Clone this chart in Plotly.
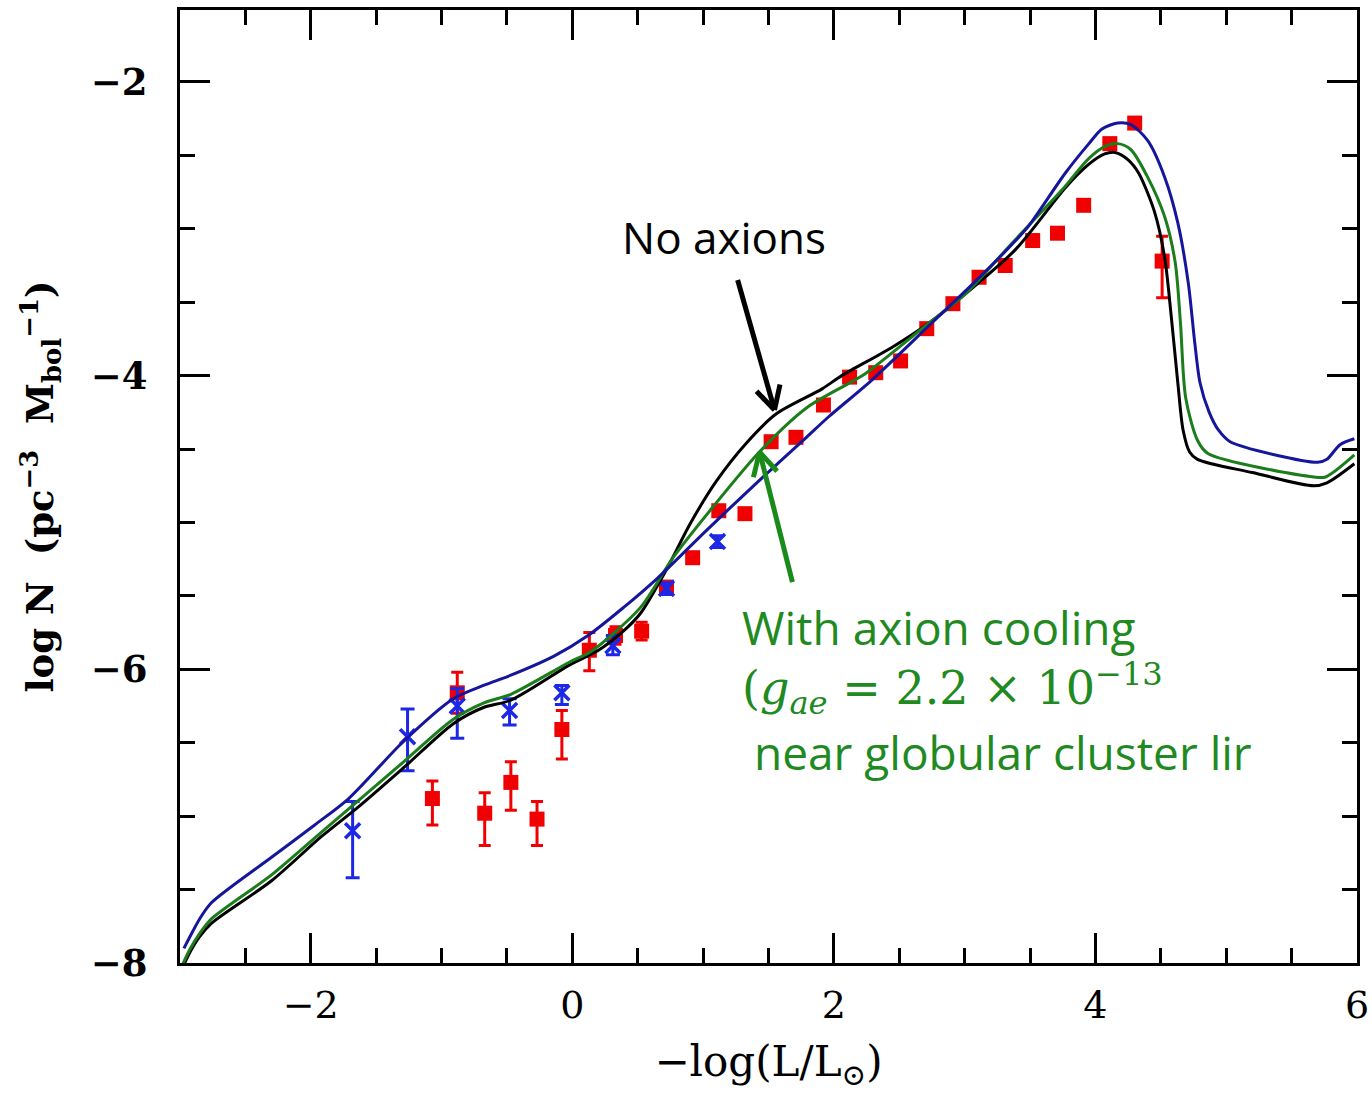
import math
import plotly.graph_objects as go

# ---------------- data ----------------
red_x = [-1.07, -0.88, -0.67, -0.47, -0.27, -0.08, 0.13, 0.33, 0.53, 0.72, 0.92, 1.12, 1.32,
         1.52, 1.71, 1.92, 2.12, 2.32, 2.51, 2.71, 2.91, 3.11, 3.31, 3.52, 3.71, 3.91, 4.11, 4.30, 4.51]
red_y = [-6.88, -6.16, -6.98, -6.77, -7.02, -6.41, -5.87, -5.77, -5.74, -5.44, -5.24, -4.92, -4.94,
         -4.45, -4.42, -4.20, -4.01, -3.98, -3.90, -3.68, -3.51, -3.33, -3.25, -3.08, -3.03, -2.84, -2.42, -2.28, -3.22]
red_plus = [0.12, 0.14, 0.14, 0.14, 0.12, 0.13, 0.12, 0.06, 0.06, 0.03, 0.02, 0.02, 0.02,
            0.02, 0.02, 0.02, 0.02, 0.02, 0.02, 0.02, 0.02, 0.02, 0.02, 0.02, 0.02, 0.02, 0.02, 0.02, 0.17]
red_minus = [0.18, 0.14, 0.22, 0.19, 0.18, 0.20, 0.14, 0.06, 0.06, 0.03, 0.02, 0.02, 0.02,
             0.02, 0.02, 0.02, 0.02, 0.02, 0.02, 0.02, 0.02, 0.02, 0.02, 0.02, 0.02, 0.02, 0.02, 0.02, 0.25]

blue_x = [-1.68, -1.26, -0.88, -0.48, -0.08, 0.31, 0.72, 1.11]
blue_y = [-7.10, -6.46, -6.25, -6.28, -6.16, -5.84, -5.45, -5.13]
blue_plus = [0.20, 0.19, 0.12, 0.08, 0.05, 0.07, 0.04, 0.04]
blue_minus = [0.32, 0.23, 0.22, 0.10, 0.08, 0.06, 0.04, 0.04]

noax_x = [-2.98, -2.92, -2.85, -2.76, -2.30, -1.92, -1.64, -1.29, -0.91, -0.68, -0.47, -0.02, 0.20,
          0.39, 0.52, 0.72, 0.90, 1.10, 1.33, 1.56, 1.91, 2.06, 2.44, 2.73, 3.01, 3.39, 3.77, 3.95,
          4.07, 4.15, 4.25, 4.33, 4.45, 4.53, 4.58, 4.63, 4.67, 4.72, 4.78, 5.20, 5.67, 5.77, 5.98]
noax_y = [-8.03, -7.92, -7.82, -7.73, -7.44, -7.14, -6.94, -6.67, -6.37, -6.26, -6.21, -5.97, -5.87,
          -5.74, -5.62, -5.32, -5.01, -4.72, -4.46, -4.26, -4.09, -4.00, -3.81, -3.64, -3.44, -3.14,
          -2.72, -2.56, -2.49, -2.48, -2.53, -2.62, -2.88, -3.20, -3.60, -4.05, -4.37, -4.52, -4.57,
          -4.66, -4.75, -4.73, -4.60]

axion_x = [-2.98, -2.92, -2.85, -2.76, -2.30, -1.92, -1.29, -0.91, -0.68, -0.47, -0.02, 0.14, 0.52,
           0.77, 1.07, 1.43, 1.79, 2.14, 2.25, 2.73, 3.01, 3.36, 3.74, 3.95, 4.07, 4.17, 4.27, 4.40,
           4.53, 4.61, 4.65, 4.69, 4.78, 4.86, 5.67, 5.76, 5.98]
axion_y = [-8.01, -7.90, -7.80, -7.70, -7.40, -7.11, -6.63, -6.34, -6.23, -6.17, -5.95, -5.88, -5.58,
           -5.24, -4.90, -4.52, -4.22, -4.04, -3.98, -3.64, -3.44, -3.10, -2.74, -2.52, -2.44, -2.42,
           -2.46, -2.65, -2.92, -3.23, -3.64, -4.15, -4.44, -4.53, -4.69, -4.69, -4.54]

alt_x = [-2.97, -2.90, -2.85, -2.76, -2.30, -1.97, -1.71, -1.29, -0.91, -0.68, -0.47, -0.14, 0.12,
         0.39, 0.65, 1.03, 1.41, 1.79, 1.96, 2.29, 2.75, 3.08, 3.39, 3.49, 3.77, 3.95, 4.05, 4.17,
         4.27, 4.40, 4.53, 4.63, 4.71, 4.76, 4.80, 4.87, 4.94, 5.03, 5.70, 5.77, 5.87, 5.98]
alt_y = [-7.90, -7.78, -7.70, -7.59, -7.28, -7.06, -6.88, -6.49, -6.20, -6.11, -6.04, -5.91, -5.77,
         -5.58, -5.38, -5.05, -4.73, -4.42, -4.28, -4.03, -3.64, -3.36, -3.08, -2.98, -2.62, -2.42,
         -2.32, -2.28, -2.29, -2.40, -2.65, -2.96, -3.37, -3.78, -4.05, -4.25, -4.37, -4.45, -4.59,
         -4.57, -4.47, -4.43]

x_ticks = [-2, 0, 2, 4, 6]
y_ticks = [-8, -6, -4, -2]

# ---------------- layout constants ----------------
W, H = 1372, 1096
ML, MR, MT, MB = 180, 15, 10, 133
XR = [-3, 6]
YR = [-8, -1.51]
PW, PH = W - ML - MR, H - MT - MB
sx = PW / (XR[1] - XR[0])
sy = PH / (YR[1] - YR[0])

BLACK = "#000000"
GREEN_LINE = "#1b7d1b"
GREEN_TEXT = "#1f8a1f"
NAVY = "#16169c"
BLUE_PT = "#1c28e6"
RED = "#f00000"

fig = go.Figure()

fig.add_trace(go.Scatter(
    x=red_x, y=red_y, mode="markers",
    marker=dict(symbol="square", size=15, color=RED),
    error_y=dict(type="data", symmetric=False, array=red_plus, arrayminus=red_minus,
                 color=RED, thickness=3, width=6),
    showlegend=False))

fig.add_trace(go.Scatter(
    x=blue_x, y=blue_y, mode="markers",
    marker=dict(symbol="x-thin", size=15, color=BLUE_PT, line=dict(color=BLUE_PT, width=3.5)),
    error_y=dict(type="data", symmetric=False, array=blue_plus, arrayminus=blue_minus,
                 color=BLUE_PT, thickness=3, width=7),
    showlegend=False))

for xs, ys, col in [(noax_x, noax_y, BLACK), (axion_x, axion_y, GREEN_LINE), (alt_x, alt_y, NAVY)]:
    fig.add_trace(go.Scatter(x=xs, y=ys, mode="lines",
                             line=dict(color=col, width=3, shape="spline", smoothing=0.8),
                             showlegend=False, cliponaxis=True))


def arrow(tail, tip, color, width=5, head=26, ang=28):
    # build shaft + open V head using axis scales
    tx, ty = tip
    dxp = (tail[0] - tx) * sx
    dyp = -(tail[1] - ty) * sy
    L = math.hypot(dxp, dyp)
    ux, uy = dxp / L, dyp / L
    shapes = [dict(type="line", xref="x", yref="y", x0=tail[0], y0=tail[1], x1=tx, y1=ty,
                   line=dict(color=color, width=width))]
    for a in (ang, -ang):
        r = math.radians(a)
        hx = ux * math.cos(r) - uy * math.sin(r)
        hy = ux * math.sin(r) + uy * math.cos(r)
        shapes.append(dict(type="line", xref="x", yref="y", x0=tx, y0=ty,
                           x1=tx + hx * head / sx, y1=ty - hy * head / sy,
                           line=dict(color=color, width=width)))
    return shapes


shapes = arrow((1.264, -3.349), (1.546, -4.234), BLACK) + arrow((1.683, -5.406), (1.432, -4.52), "#1a8a1a")

sans = "Open Sans"
annotations = [
    dict(x=1.158, y=-3.056, xref="x", yref="y", text="No axions", showarrow=False,
         font=dict(family=sans, size=44, color=BLACK), xanchor="center", yanchor="middle"),
    dict(x=1.28, y=-5.71, xref="x", yref="y", text="With axion cooling", showarrow=False,
         font=dict(family=sans, size=46, color=GREEN_TEXT), xanchor="left", yanchor="middle"),
    dict(x=1.28, y=-6.13, xref="x", yref="y",
         text="(<i>g</i><sub><i>ae</i></sub> = 2.2 × 10<sup>−13</sup>", showarrow=False,
         font=dict(family="DejaVu Serif", size=46, color=GREEN_TEXT), xanchor="left", yanchor="middle"),
    dict(x=1.37, y=-6.56, xref="x", yref="y", text="near globular cluster lir", showarrow=False,
         font=dict(family=sans, size=46, color=GREEN_TEXT), xanchor="left", yanchor="middle"),
]

axis_common = dict(showline=True, linewidth=3, linecolor=BLACK, mirror="allticks",
                   ticks="inside", ticklen=30, tickwidth=3, tickcolor=BLACK,
                   showgrid=False, zeroline=False)

fig.update_layout(
    width=W, height=H, margin=dict(l=ML, r=MR, t=MT, b=MB, autoexpand=False),
    paper_bgcolor="white", plot_bgcolor="white",
    shapes=shapes, annotations=annotations,
    xaxis=dict(range=XR, tickvals=x_ticks, ticktext=[f"{v}".replace("-", "−") for v in x_ticks],
               minor=dict(dtick=0.5, tick0=0, ticklen=15, tickwidth=3, tickcolor=BLACK, ticks="inside"),
               tickfont=dict(family="DejaVu Serif", size=38, color=BLACK),
               ticklabelstandoff=6,
               title=dict(text="−log(L/L<sub>⊙</sub>)", font=dict(family="DejaVu Serif", size=42, color=BLACK),
                          standoff=22),
               **axis_common),
    yaxis=dict(range=YR, tickvals=y_ticks, ticktext=[f"{v}".replace("-", "−") for v in y_ticks],
               minor=dict(dtick=0.5, tick0=0, ticklen=15, tickwidth=3, tickcolor=BLACK, ticks="inside"),
               tickfont=dict(family="DejaVu Serif", size=37, color=BLACK, weight="bold"),
               ticklabelstandoff=22,
               title=dict(text="log N  (pc<sup>−3</sup>  M<sub>bol</sub><sup>−1</sup>)",
                          font=dict(family="DejaVu Serif", size=37, color=BLACK, weight="bold"),
                          standoff=26),
               **axis_common),
)

fig.write_html("out.html")
